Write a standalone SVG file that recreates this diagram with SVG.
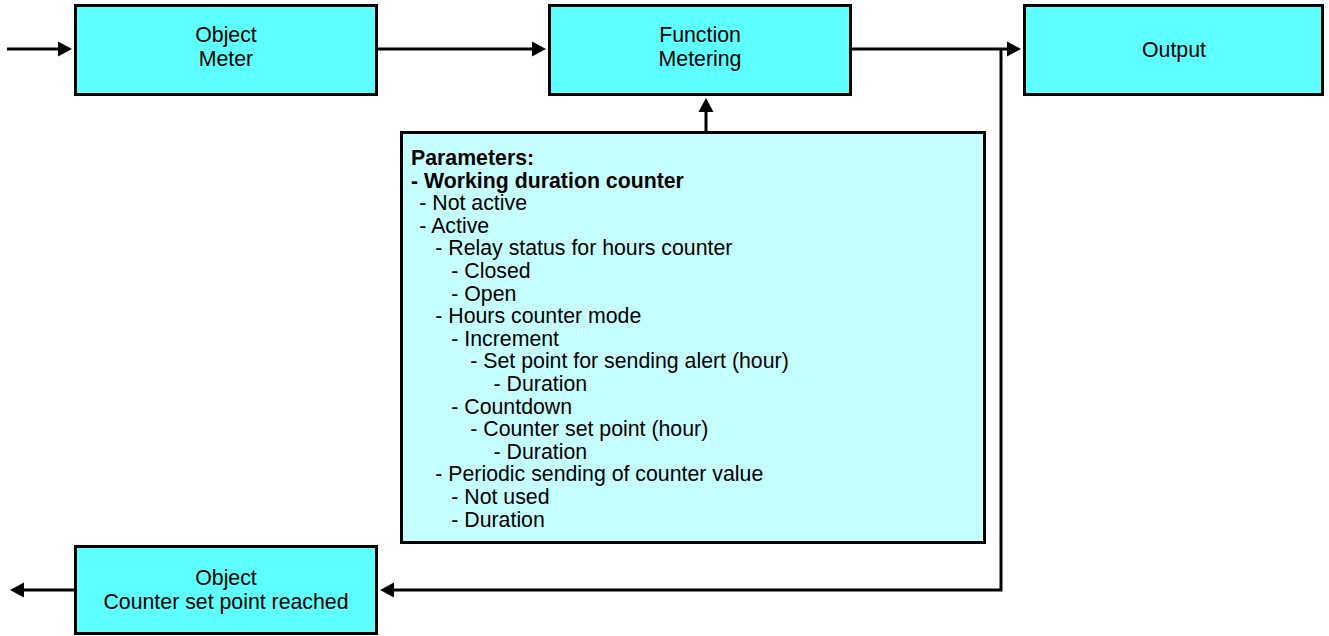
<svg xmlns="http://www.w3.org/2000/svg" width="1329" height="636" viewBox="0 0 1329 636">
<style>
.box{fill:#5EFFFF;stroke:#000;stroke-width:3}
.pbox{fill:#C6FFFF;stroke:#000;stroke-width:3}
.t{font-family:"Liberation Sans",Arial,Helvetica,sans-serif;font-size:21.3px;fill:#000}
.c{text-anchor:middle}
.b{font-weight:bold}
.ln{fill:none;stroke:#000;stroke-width:3}
</style>
<defs>
<marker id="ah" markerUnits="userSpaceOnUse" markerWidth="16" markerHeight="16" refX="4" refY="7.5" orient="auto" overflow="visible">
<path d="M0,0 L14,7.5 L0,15 z" fill="#000"/>
</marker>
</defs>
<rect width="1329" height="636" fill="#fff"/>
<g id="connectors">
<path class="ln" d="M7,49 H62" marker-end="url(#ah)"/>
<path class="ln" d="M378,49 H536" marker-end="url(#ah)"/>
<path class="ln" d="M852,49 H1011" marker-end="url(#ah)"/>
<path class="ln" d="M706,131 V108" marker-end="url(#ah)"/>
<path class="ln" d="M1001,49 V590 H390" marker-end="url(#ah)"/>
<path class="ln" d="M74,590 H20" marker-end="url(#ah)"/>
</g>
<g id="object-meter">
<rect class="box" x="75.5" y="5.5" width="301" height="89"/>
<text class="t c" x="226" y="42">Object</text>
<text class="t c" x="226" y="65.5">Meter</text>
</g>
<g id="function-metering">
<rect class="box" x="549.5" y="5.5" width="301" height="89"/>
<text class="t c" x="700" y="42">Function</text>
<text class="t c" x="700" y="65.5">Metering</text>
</g>
<g id="output">
<rect class="box" x="1024.5" y="5.5" width="298" height="89"/>
<text class="t c" x="1174" y="57">Output</text>
</g>
<g id="parameters">
<rect class="pbox" x="401.5" y="132.5" width="583" height="410"/>
<text class="t b" x="411" y="165">Parameters:</text>
<text class="t b" x="411" y="187.6">- Working duration counter</text>
<text class="t" x="419.3" y="210.2">- Not active</text>
<text class="t" x="419.3" y="232.8">- Active</text>
<text class="t" x="435.3" y="255.4">- Relay status for hours counter</text>
<text class="t" x="451.3" y="278">- Closed</text>
<text class="t" x="451.3" y="300.6">- Open</text>
<text class="t" x="435.3" y="323.2">- Hours counter mode</text>
<text class="t" x="451.3" y="345.8">- Increment</text>
<text class="t" x="470.3" y="368.4">- Set point for sending alert (hour)</text>
<text class="t" x="493.6" y="391">- Duration</text>
<text class="t" x="451.3" y="413.6">- Countdown</text>
<text class="t" x="470.3" y="436.2">- Counter set point (hour)</text>
<text class="t" x="493.6" y="458.8">- Duration</text>
<text class="t" x="435.3" y="481.4">- Periodic sending of counter value</text>
<text class="t" x="451.3" y="504">- Not used</text>
<text class="t" x="451.3" y="526.6">- Duration</text>
</g>
<g id="object-counter-set-point-reached">
<rect class="box" x="75.5" y="546.5" width="301" height="87"/>
<text class="t c" x="226" y="584.5">Object</text>
<text class="t c" x="226" y="608.5">Counter set point reached</text>
</g>
</svg>
